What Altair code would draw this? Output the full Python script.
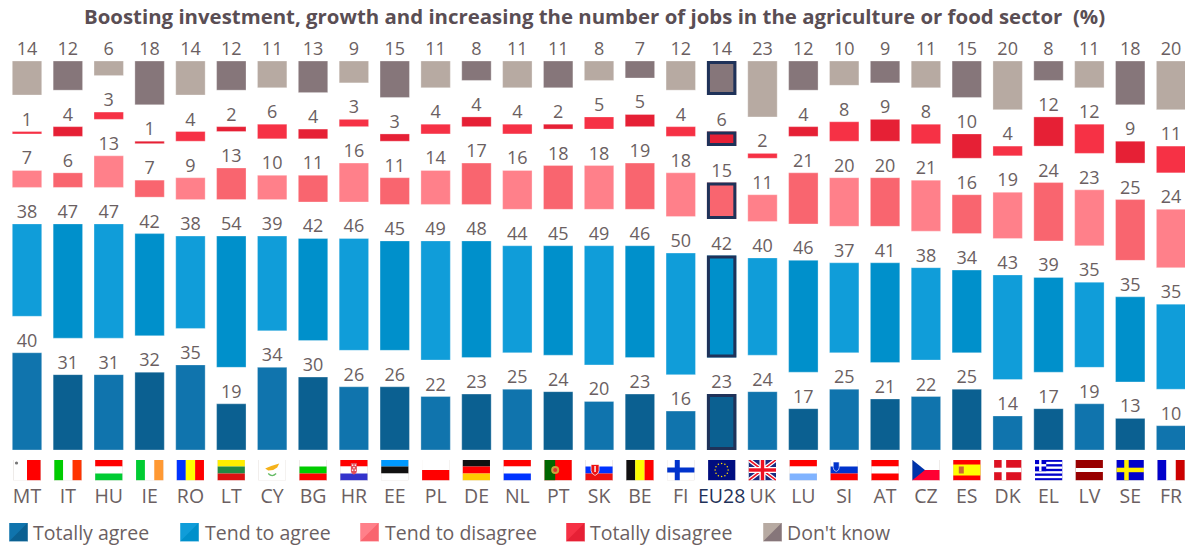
import urllib.parse
import altair as alt
import pandas as pd

codes = ["MT","IT","HU","IE","RO","LT","CY","BG","HR","EE","PL","DE","NL","PT","SK","BE","FI","EU28","UK","LU","SI","AT","CZ","ES","DK","EL","LV","SE","FR"]
totally_agree = [40,31,31,32,35,19,34,30,26,26,22,23,25,24,20,23,16,23,24,17,25,21,22,25,14,17,19,13,10]
tend_agree = [38,47,47,42,38,54,39,42,46,45,49,48,44,45,49,46,50,42,40,46,37,41,38,34,43,39,35,35,35]
tend_disagree = [7,6,13,7,9,13,10,11,16,11,14,17,16,18,18,19,18,15,11,21,20,20,21,16,19,24,23,25,24]
totally_disagree = [1,4,3,1,4,2,6,4,3,3,4,4,4,2,5,5,4,6,2,4,8,9,8,10,4,12,12,9,11]
dont_know = [14,12,6,18,14,12,11,13,9,15,11,8,11,11,8,7,12,14,23,12,10,9,11,15,20,8,11,18,20]
series_names = ["Totally agree","Tend to agree","Tend to disagree","Totally disagree","Don't know"]
series_values = [totally_agree, tend_agree, tend_disagree, totally_disagree, dont_know]
light = ["#1074ad","#109dd9","#ff808a","#f63145","#b7aaa2"]
dark = ["#0b6091","#0090cb","#f9656f","#e62035","#86767a"]
TITLE = "Boosting investment, growth and increasing the number of jobs in the agriculture or food sector\u00a0 (%)"
GAP = 15
NAVY = "#1f3259"
INK = "#6b5f62"
FONT = "Open Sans"

rows = []
for i, c in enumerate(codes):
    base = 0
    for s, vals in enumerate(series_values):
        v = vals[i]
        rows.append(dict(code=c, series=series_names[s], value=v, start=base, end=base + v,
                         fill=(light if i % 2 == 0 else dark)[s]))
        base += v + GAP
df = pd.DataFrame(rows)


def wrap(body):
    svg = ('<svg xmlns="http://www.w3.org/2000/svg" width="84" height="63" viewBox="0 0 28 21">'
           + body + '<rect x=".25" y=".25" width="27.5" height="20.5" fill="none" stroke="#ddd6d2" stroke-width=".5"/></svg>')
    return "data:image/svg+xml," + urllib.parse.quote(svg)


def rect(x, y, w, h, c):
    return f'<rect x="{x}" y="{y}" width="{w}" height="{h}" fill="{c}"/>'


def hs(*cs):
    h = 21 / len(cs)
    return "".join(rect(0, i * h, 28, h + .05, c) for i, c in enumerate(cs))


def vs(*cs):
    w = 28 / len(cs)
    return "".join(rect(i * w, 0, w + .05, 21, c) for i, c in enumerate(cs))


def nordic(bg, cross):
    return rect(0, 0, 28, 21, bg) + rect(8, 0, 4.5, 21, cross) + rect(0, 8.2, 28, 4.5, cross)


greek = rect(0, 0, 28, 21, "#0000cc") + "".join(rect(0, y, 28, 2.33, "#fff") for y in (2.33, 7, 11.66, 16.33)) \
    + rect(0, 0, 11.7, 11.7, "#0000cc") + rect(4.6, 0, 2.4, 11.7, "#fff") + rect(0, 4.6, 11.7, 2.4, "#fff")
stars = "".join(f'<circle cx="{14 + 6.5 * dx}" cy="{10.5 + 6.5 * dy}" r=".75" fill="#ffdd00"/>'
                for dx, dy in [(0, -1), (.5, -.87), (.87, -.5), (1, 0), (.87, .5), (.5, .87), (0, 1),
                               (-.5, .87), (-.87, .5), (-1, 0), (-.87, -.5), (-.5, -.87)])
union = (rect(0, 0, 28, 21, "#1a2a80")
         + '<path d="M0 0L28 21M28 0L0 21" stroke="#fff" stroke-width="4"/>'
         + '<path d="M0 0L28 21M28 0L0 21" stroke="#ee1122" stroke-width="1.6"/>'
         + rect(11, 0, 6, 21, "#fff") + rect(0, 7.5, 28, 6, "#fff")
         + rect(12.3, 0, 3.4, 21, "#ee1122") + rect(0, 8.8, 28, 3.4, "#ee1122"))
flags = {
    "MT": vs("#ffffff", "#ff0000") + '<circle cx="3.5" cy="3.5" r="1.6" fill="#777"/>',
    "IT": vs("#00cc00", "#ffffff", "#ff3300"),
    "HU": hs("#ff0000", "#ffffff", "#00cc33"),
    "IE": vs("#00cc33", "#ffffff", "#ff9933"),
    "RO": vs("#0033ff", "#ffff00", "#ff0000"),
    "LT": hs("#ffee00", "#228844", "#dd1111"),
    "CY": rect(0, 0, 28, 21, "#fff") + '<path d="M7 9L13 6.5L21 4L19 8L15 10.5L10 11Z" fill="#f5b21a"/>'
          + '<path d="M10 14Q14 18 18 14" stroke="#66bb66" stroke-width="1.2" fill="none"/>',
    "BG": hs("#ffffff", "#00cc00", "#ff0000"),
    "HR": hs("#ff0000", "#ffffff", "#3333cc") + '<path d="M11 3.5H17V11Q17 14 14 15Q11 14 11 11Z" fill="#e2505c"/>'
          + rect(12, 5, 1.4, 1.4, "#fff") + rect(14.8, 5, 1.4, 1.4, "#fff") + rect(13.4, 7.5, 1.4, 1.4, "#fff")
          + rect(12, 10, 1.4, 1.4, "#fff") + rect(14.8, 10, 1.4, 1.4, "#fff"),
    "EE": hs("#0099ff", "#111111", "#ffffff"),
    "PL": hs("#ffffff", "#ff0000"),
    "DE": hs("#111111", "#ff0000", "#ffcc00"),
    "NL": hs("#ff0000", "#ffffff", "#0033ff"),
    "PT": rect(0, 0, 28, 21, "#ff0000") + rect(0, 0, 11, 21, "#006600") + '<circle cx="11" cy="10.5" r="4" fill="#c9a33c"/>'
          + '<circle cx="11" cy="10.5" r="2" fill="#dd3333"/>',
    "SK": hs("#ffffff", "#0033ff", "#ee1111") + '<path d="M6 5H14V11Q14 14 10 16Q6 14 6 11Z" fill="#ee1111" stroke="#fff" stroke-width=".7"/>'
          + rect(9.3, 6.5, 1.4, 6, "#ffffff"),
    "BE": vs("#111111", "#ffff00", "#ff0000"),
    "FI": rect(0, 0, 28, 21, "#ffffff") + rect(8, 0, 5, 21, "#0033cc") + rect(0, 8, 28, 5, "#0033cc"),
    "EU28": rect(0, 0, 28, 21, "#000d80") + stars,
    "UK": union,
    "LU": hs("#ff0000", "#ffffff", "#80b3ff"),
    "SI": hs("#ffffff", "#0033cc", "#ff0000") + '<path d="M3 2.5H9V8Q9 11 6 12Q3 11 3 8Z" fill="#0033cc" stroke="#fff" stroke-width=".6"/>',
    "AT": hs("#ff0000", "#ffffff", "#ff0000"),
    "CZ": hs("#ffffff", "#ff0033") + '<path d="M0 0L13 10.5L0 21Z" fill="#0033aa"/>',
    "ES": rect(0, 0, 28, 21, "#ff0000") + rect(0, 5, 28, 11, "#ffff00") + rect(6, 7, 5, 7, "#cc6633"),
    "DK": nordic("#dd1122", "#ffffff"),
    "EL": greek,
    "LV": rect(0, 0, 28, 21, "#990000") + rect(0, 8.5, 28, 4, "#ffffff"),
    "SE": nordic("#0000cc", "#ffee00"),
    "FR": vs("#0000cc", "#ffffff", "#cc0000"),
}
flag_df = pd.DataFrame({"code": codes, "url": [wrap(flags[c]) for c in codes]})


def swatch(a, b):
    svg = ('<svg xmlns="http://www.w3.org/2000/svg" width="57" height="57" viewBox="0 0 19 19">'
           + f'<rect width="19" height="19" fill="{a}"/><path d="M19 0V19H0Z" fill="{b}"/>'
           + '<rect x=".25" y=".25" width="18.5" height="18.5" fill="none" stroke="#fff" stroke-opacity=".45" stroke-width=".5"/></svg>')
    return "data:image/svg+xml," + urllib.parse.quote(svg)


legend_x = [1, 172, 352, 558, 755]
legend_tx = [25, 197, 377, 582, 779]
leg_df = pd.DataFrame({"name": series_names, "px": legend_x, "tx": legend_tx,
                       "url": [swatch(a, b) for a, b in zip(light, dark)]})

x = alt.X("code:N", sort=codes, axis=None,
          scale=alt.Scale(type="band", domain=codes, range=[4.3, 1177.8], paddingInner=0.28, paddingOuter=0))
y = alt.Y("end:Q", axis=None, scale=alt.Scale(domain=[0, 160], range=[412, 23], nice=False, zero=False))
y2 = alt.Y2("start:Q")
fill = alt.Color("fill:N", scale=None, legend=None)

bars = alt.Chart(df).mark_bar(stroke="#ffffff", strokeOpacity=0.3, strokeWidth=1).encode(x=x, y=y, y2=y2, color=fill)
highlight = alt.Chart(df[df.code == "EU28"]).mark_bar(
    fillOpacity=0, stroke=NAVY, strokeWidth=3, width=26.4, yOffset=1.5, y2Offset=-1.5
).encode(x=x, y=y, y2=y2)
labels = alt.Chart(df).mark_text(font=FONT, fontSize=18, color=INK, baseline="alphabetic", dy=-6).encode(
    x=x, y=y, text="value:Q")
flag_marks = alt.Chart(flag_df).mark_image(width=28, height=21).encode(x=x, y=alt.value(432), url="url:N")
code_text = alt.Chart(flag_df).mark_text(font=FONT, fontSize=19.5, baseline="alphabetic").encode(
    x=x, y=alt.value(465),
    text="code:N",
    color=alt.condition(alt.datum.code == "EU28", alt.value(NAVY), alt.value(INK)))
leg_marks = alt.Chart(leg_df).mark_image(width=19, height=19, align="left").encode(
    x=alt.X("px:Q", scale=None, axis=None), y=alt.value(494), url="url:N")
leg_text = alt.Chart(leg_df).mark_text(font=FONT, fontSize=19.5, color=INK, align="left", baseline="alphabetic").encode(
    x=alt.X("tx:Q", scale=None, axis=None), y=alt.value(502), text="name:N")

chart = alt.layer(bars, highlight, labels, flag_marks, code_text, leg_marks, leg_text).properties(
    width=1177, height=509,
    padding={"left": 0, "right": 0, "top": 30, "bottom": 0},
    autosize=alt.AutoSizeParams(type="none"),
    title=alt.TitleParams(TITLE, font=FONT, fontSize=20.4, fontWeight="bold", color="#5a4e54",
                          anchor="start", dx=76, offset=9.5),
).configure_view(stroke=None)

chart.save("out.html", embed_options={"renderer": "svg", "actions": False})
